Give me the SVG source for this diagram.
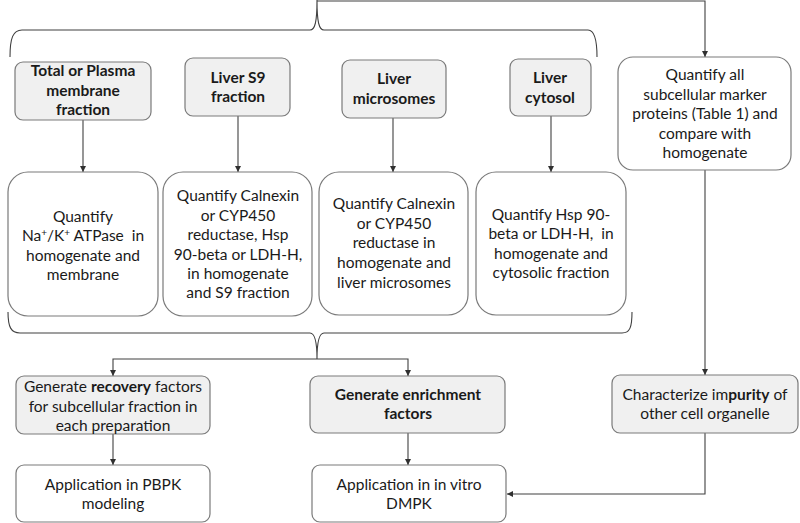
<svg xmlns="http://www.w3.org/2000/svg" width="800" height="523" viewBox="0 0 800 523">
<style>
.g{fill:#f0f0f0;stroke:#7a7a7a;stroke-width:1.2}
.w{fill:#ffffff;stroke:#7a7a7a;stroke-width:1.2}
.t{font-family:Lato,"Open Sans",sans-serif;font-size:15.5px;fill:#1a1a1a;text-anchor:middle}
.b{font-weight:bold}
.c{fill:none;stroke:#404040;stroke-width:1.1}
.s{font-size:10px}
.p{white-space:pre}
</style>
<defs>
<marker id="ah" viewBox="0 0 10 10" refX="10" refY="5" markerWidth="6" markerHeight="6" markerUnits="userSpaceOnUse" orient="auto">
<path d="M0,0 L10,5 L0,10 z" fill="#303030"/>
</marker>
</defs>
<g id="connectors">
<path class="c" d="M10,57 C10,38 13,30 22,30 L310,30 C315,30 317,22 317,0 C317,22 319,30 324,30 L588,30 C594,30 597,38 597,57"/>
<path class="c" d="M317,1 L705,1 L705,57" marker-end="url(#ah)"/>
<path class="c" d="M83,120 L83,172" marker-end="url(#ah)"/>
<path class="c" d="M238,116 L238,172" marker-end="url(#ah)"/>
<path class="c" d="M393,118 L393,172" marker-end="url(#ah)"/>
<path class="c" d="M551,116 L551,172" marker-end="url(#ah)"/>
<path class="c" d="M8,312 C8,327 11,333 20,333 L310,333 C315,333 317,341 317,359 C317,341 319,333 324,333 L622,333 C630,333 632,327 632,312"/>
<path class="c" d="M317,359 L113,359 L113,376" marker-end="url(#ah)"/>
<path class="c" d="M317,359 L408,359 L408,376" marker-end="url(#ah)"/>
<path class="c" d="M113,434 L113,465" marker-end="url(#ah)"/>
<path class="c" d="M408,433 L408,465" marker-end="url(#ah)"/>
<path class="c" d="M705,170 L705,375" marker-end="url(#ah)"/>
<path class="c" d="M705,433 L705,494 L507,494" marker-end="url(#ah)"/>
</g>
<g id="n1"><rect class="g" x="15" y="62" width="136" height="58" rx="8"/>
<text class="t b" x="83" y="76">Total or Plasma</text><text class="t b" x="83" y="96">membrane</text><text class="t b" x="83" y="115">fraction</text></g>
<g id="n2"><rect class="g" x="185" y="58" width="105" height="58" rx="8"/>
<text class="t b" x="238" y="83">Liver S9</text><text class="t b" x="238" y="102">fraction</text></g>
<g id="n3"><rect class="g" x="342" y="60" width="104" height="58" rx="8"/>
<text class="t b" x="394" y="84">Liver</text><text class="t b" x="394" y="104">microsomes</text></g>
<g id="n4"><rect class="g" x="510" y="59" width="81" height="57" rx="8"/>
<text class="t b" x="550" y="83">Liver</text><text class="t b" x="550" y="103">cytosol</text></g>
<g id="n5"><rect class="w" x="618" y="57" width="173" height="113" rx="15"/>
<text class="t" x="705" y="80">Quantify all</text><text class="t" x="705" y="100">subcellular marker</text><text class="t" x="705" y="119">proteins (Table 1) and</text><text class="t" x="705" y="139">compare with</text><text class="t" x="705" y="158">homogenate</text></g>
<g id="nA"><rect class="w" x="8" y="172" width="150" height="144" rx="20"/>
<text class="t" x="83" y="222">Quantify</text><text class="t p" x="83" y="241">Na<tspan class="s" dy="-5">+</tspan><tspan dy="5">/K</tspan><tspan class="s" dy="-5">+</tspan><tspan dy="5"> ATPase  in</tspan></text><text class="t" x="83" y="261">homogenate and</text><text class="t" x="83" y="280">membrane</text></g>
<g id="nB"><rect class="w" x="163" y="172" width="149" height="144" rx="20"/>
<text class="t" x="238" y="201">Quantify Calnexin</text><text class="t" x="238" y="221">or CYP450</text><text class="t" x="238" y="240">reductase, Hsp</text><text class="t" x="238" y="260">90-beta or LDH-H,</text><text class="t" x="238" y="279">in homogenate</text><text class="t" x="238" y="298">and S9 fraction</text></g>
<g id="nC"><rect class="w" x="319" y="172" width="149" height="143" rx="20"/>
<text class="t" x="394" y="209">Quantify Calnexin</text><text class="t" x="394" y="229">or CYP450</text><text class="t" x="394" y="248">reductase in</text><text class="t" x="394" y="268">homogenate and</text><text class="t" x="394" y="288">liver microsomes</text></g>
<g id="nD"><rect class="w" x="476" y="172" width="150" height="143" rx="20"/>
<text class="t" x="551" y="220">Quantify Hsp 90-</text><text class="t p" x="551" y="239">beta or LDH-H,  in</text><text class="t" x="551" y="259">homogenate and</text><text class="t" x="551" y="278">cytosolic fraction</text></g>
<g id="nE"><rect class="g" x="16" y="376" width="194" height="58" rx="8"/>
<text class="t" x="113" y="392">Generate <tspan class="b">recovery</tspan> factors</text><text class="t" x="113" y="412">for subcellular fraction in</text><text class="t" x="113" y="431">each preparation</text></g>
<g id="nF"><rect class="w" x="16" y="465" width="194" height="57" rx="8"/>
<text class="t" x="113" y="490">Application in PBPK</text><text class="t" x="113" y="509">modeling</text></g>
<g id="nG"><rect class="g" x="310" y="376" width="195" height="57" rx="8"/>
<text class="t b" x="408" y="400">Generate enrichment</text><text class="t b" x="408" y="419">factors</text></g>
<g id="nH"><rect class="w" x="312" y="465" width="194" height="57" rx="8"/>
<text class="t" x="409" y="490">Application in in vitro</text><text class="t" x="409" y="509">DMPK</text></g>
<g id="nI"><rect class="g" x="612" y="375" width="186" height="58" rx="8"/>
<text class="t" x="705" y="400">Characterize im<tspan class="b">purity</tspan> of</text><text class="t" x="705" y="419">other cell organelle</text></g>
</svg>
